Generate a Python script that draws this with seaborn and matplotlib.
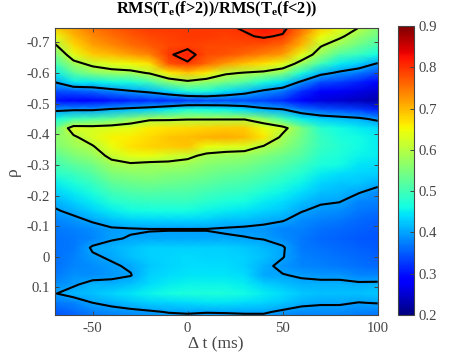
import numpy as np
import pandas as pd
import matplotlib
matplotlib.use('Agg')
import matplotlib.pyplot as plt
import seaborn as sns

delta_t = [-70, -60, -50, -40, -30, -20, -10, 0, 10, 20, 30, 40, 50, 60, 70, 80, 90, 100]
rho = [round(-0.75 + 0.03 * i, 2) for i in range(33)]

# one list per delta t column, top of the plot (rho = -0.75) first
t_m70 = [.69, .64, .59, .54, .50, .45, .40, .34, .30, .39, .46, .53, .56, .55, .52, .50, .48, .45, .43, .41, .395, .38, .37, .365, .365, .365, .365, .37, .385, .398, .37, .35, .34]
t_m60 = [.72, .70, .675, .635, .58, .52, .45, .35, .29, .395, .50, .63, .59, .575, .55, .52, .495, .47, .45, .43, .41, .39, .375, .37, .37, .375, .38, .388, .395, .415, .378, .36, .35]
t_m50 = [.75, .735, .715, .685, .615, .56, .45, .36, .29, .395, .51, .625, .63, .595, .57, .54, .515, .49, .47, .45, .43, .405, .385, .38, .405, .395, .385, .385, .412, .42, .40, .375, .36]
t_m40 = [.77, .755, .735, .70, .635, .575, .46, .38, .30, .41, .53, .63, .655, .645, .615, .58, .55, .525, .50, .475, .45, .42, .395, .397, .41, .405, .395, .392, .41, .435, .41, .385, .37]
t_m30 = [.785, .77, .755, .72, .65, .58, .47, .395, .31, .42, .56, .64, .66, .67, .64, .59, .56, .535, .51, .485, .46, .43, .397, .402, .42, .42, .405, .398, .42, .445, .42, .39, .375]
t_m20 = [.795, .785, .77, .74, .67, .605, .50, .41, .32, .43, .59, .66, .675, .68, .645, .58, .565, .54, .515, .49, .465, .435, .399, .403, .43, .43, .425, .43, .44, .455, .43, .395, .38]
t_m10 = [.795, .79, .785, .795, .775, .66, .56, .44, .32, .45, .59, .67, .69, .685, .625, .585, .555, .535, .51, .49, .465, .435, .399, .405, .43, .435, .435, .44, .45, .465, .435, .402, .38]
t_0 = [.795, .795, .79, .815, .795, .69, .585, .47, .33, .47, .595, .675, .695, .69, .615, .575, .55, .53, .51, .49, .465, .435, .399, .405, .43, .44, .44, .445, .455, .47, .44, .405, .38]
t_10 = [.795, .795, .785, .78, .76, .66, .565, .47, .34, .46, .595, .68, .705, .645, .585, .56, .54, .52, .50, .48, .455, .43, .399, .405, .43, .435, .44, .445, .455, .47, .445, .402, .38]
t_20 = [.795, .79, .785, .775, .72, .61, .54, .445, .34, .455, .595, .685, .71, .635, .575, .55, .53, .51, .49, .47, .45, .42, .396, .404, .43, .435, .44, .445, .455, .47, .445, .403, .38]
t_30 = [.805, .795, .78, .76, .69, .595, .515, .42, .34, .44, .595, .685, .70, .63, .57, .545, .525, .505, .485, .465, .445, .42, .392, .402, .425, .43, .43, .44, .45, .46, .44, .405, .38]
t_40 = [.825, .805, .775, .74, .67, .585, .47, .39, .335, .415, .56, .645, .665, .595, .555, .53, .51, .49, .47, .45, .435, .41, .39, .398, .415, .42, .41, .405, .43, .45, .435, .405, .38]
t_50 = [.815, .795, .76, .72, .64, .56, .445, .37, .315, .405, .505, .62, .585, .565, .535, .515, .495, .475, .455, .44, .425, .403, .38, .385, .404, .402, .39, .402, .42, .44, .425, .393, .375]
t_60 = [.76, .73, .70, .64, .575, .47, .39, .32, .28, .37, .45, .545, .54, .53, .515, .495, .475, .455, .44, .42, .402, .385, .375, .37, .37, .375, .38, .395, .41, .425, .41, .385, .37]
t_70 = [.69, .65, .605, .57, .50, .415, .34, .29, .26, .35, .43, .48, .49, .49, .48, .47, .45, .435, .42, .405, .39, .375, .365, .36, .365, .37, .375, .39, .41, .42, .405, .385, .375]
t_80 = [.645, .61, .57, .51, .45, .39, .33, .275, .25, .34, .42, .46, .47, .475, .47, .46, .44, .425, .415, .401, .385, .37, .36, .355, .36, .365, .37, .39, .41, .42, .405, .385, .37]
t_90 = [.602, .57, .535, .49, .43, .37, .31, .265, .24, .33, .41, .45, .46, .46, .455, .445, .435, .425, .402, .38, .37, .36, .355, .35, .355, .36, .365, .38, .407, .42, .399, .38, .365]
t_100 = [.56, .535, .505, .46, .395, .34, .29, .25, .23, .31, .39, .44, .45, .45, .45, .44, .43, .41, .385, .375, .365, .355, .35, .345, .35, .355, .36, .38, .408, .425, .402, .375, .36]

columns = [t_m70, t_m60, t_m50, t_m40, t_m30, t_m20, t_m10, t_0, t_10, t_20, t_30, t_40, t_50, t_60, t_70, t_80, t_90, t_100]
df = pd.DataFrame(np.array(columns).T, index=rho, columns=delta_t)

x_ticks = [-50, 0, 50, 100]
y_ticks = [-0.7, -0.6, -0.5, -0.4, -0.3, -0.2, -0.1, 0, 0.1]
y_labels = ['-0.7', '-0.6', '-0.5', '-0.4', '-0.3', '-0.2', '-0.1', '0', '0.1']
cbar_ticks = [0.2, 0.3, 0.4, 0.5, 0.6, 0.7, 0.8, 0.9]
contour_levels = [0.4, 0.6, 0.8]

plt.rcParams['font.family'] = ['Liberation Serif', 'DejaVu Serif']
plt.rcParams['mathtext.fontset'] = 'custom'
plt.rcParams['mathtext.rm'] = 'Liberation Serif'
plt.rcParams['mathtext.bf'] = 'Liberation Serif:bold'

W, H = 471, 354
gray = '#454545'
fig = plt.figure(figsize=(W / 100, H / 100), dpi=100)
ax = fig.add_axes([54.5 / W, 1 - 315 / H, (377.7 - 54.5) / W, (315 - 28) / H])
cax = fig.add_axes([397.7 / W, 1 - 315 / H, (414.3 - 397.7) / W, (315 - 26) / H])

sns.heatmap(df, cmap='jet', vmin=0.2, vmax=0.9, ax=ax, cbar_ax=cax,
            xticklabels=False, yticklabels=False, shading='gouraud')

# heatmap works in cell index space, so map the data to it
idx_x = np.arange(len(delta_t))
idx_y = np.arange(len(rho))
ax.contour(idx_x, idx_y, df.values, levels=contour_levels, colors='k', linewidths=1.5)

ax.set_xlim(0, len(delta_t) - 1)
ax.set_ylim(np.interp(0.19, rho, idx_y), np.interp(-0.747, rho, idx_y))
ax.set_xticks(np.interp(x_ticks, delta_t, idx_x))
ax.set_xticklabels(['-50', '0', '50', '100'])
ax.set_yticks(np.interp(y_ticks, rho, idx_y))
ax.set_yticklabels(y_labels, rotation=0)
ax.tick_params(direction='in', length=3, width=0.7, color=gray, labelcolor=gray,
               labelsize=10.6, top=True, right=True, pad=3)
ax.tick_params(axis='x', pad=5)
for s in ax.spines.values():
    s.set_visible(True)
    s.set_color(gray)
    s.set_linewidth(0.8)

ax.set_xlabel('\u0394 t (ms)', fontsize=12.5, color=gray, labelpad=1)
ax.set_ylabel('\u03c1', fontsize=12.5, color=gray, labelpad=4)
ax.set_title(r'RMS(T$\mathbf{_e}$(f>2))/RMS(T$\mathbf{_e}$(f<2))', fontsize=11.8,
             fontweight='bold', pad=10.6)

cbar = ax.collections[0].colorbar
cbar.set_ticks(cbar_ticks)
cbar.set_ticklabels(['0.2', '0.3', '0.4', '0.5', '0.6', '0.7', '0.8', '0.9'])
cax.tick_params(direction='in', length=3, width=0.7, color=gray, labelcolor=gray,
                labelsize=10.6, pad=3)
cbar.outline.set_visible(True)
cbar.outline.set_edgecolor(gray)
cbar.outline.set_linewidth(0.8)

fig.savefig('out.png', dpi=100)
print('done')
